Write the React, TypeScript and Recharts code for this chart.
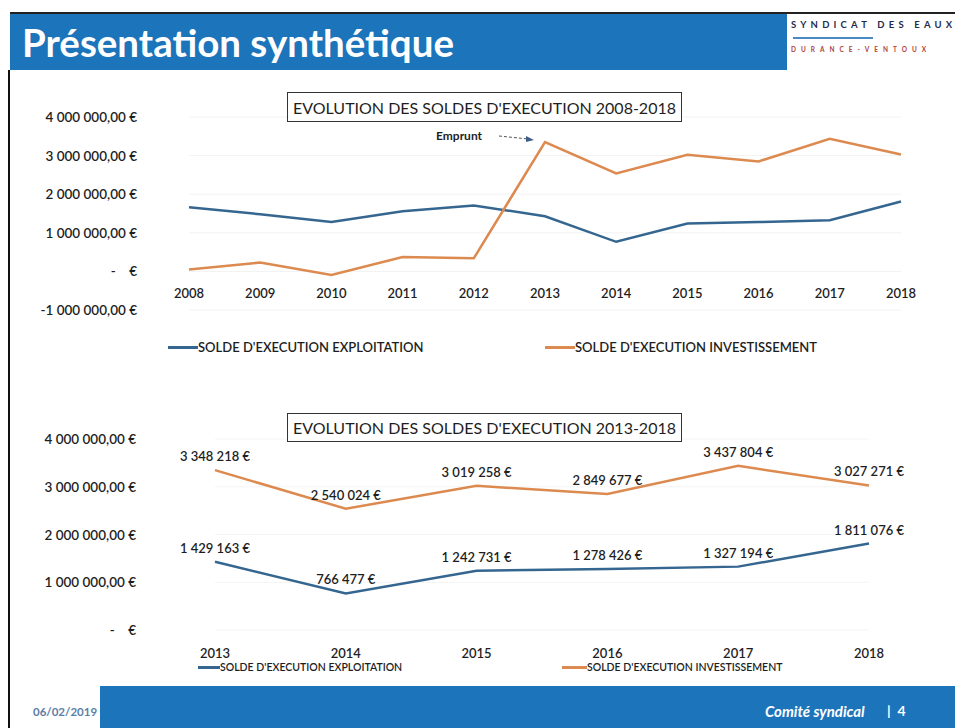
import React from 'react';
import { LineChart, Line, XAxis, YAxis, CartesianGrid, LabelList } from 'recharts';

// ---- Data ----
const yearsFull = ['2008', '2009', '2010', '2011', '2012', '2013', '2014', '2015', '2016', '2017', '2018'];
const exploitationFull = [1660000, 1480000, 1280000, 1560000, 1710000, 1429163, 766477, 1242731, 1278426, 1327194, 1811076];
const investissementFull = [50000, 230000, -90000, 370000, 340000, 3348218, 2540024, 3019258, 2849677, 3437804, 3027271];

const yearsRecent = ['2013', '2014', '2015', '2016', '2017', '2018'];
const exploitationRecent = [1429163, 766477, 1242731, 1278426, 1327194, 1811076];
const investissementRecent = [3348218, 2540024, 3019258, 2849677, 3437804, 3027271];

const yTicksTop = [-1000000, 0, 1000000, 2000000, 3000000, 4000000];
const yTicksBottom = [0, 1000000, 2000000, 3000000, 4000000];

const seriesNames = ["SOLDE D'EXECUTION EXPLOITATION", "SOLDE D'EXECUTION INVESTISSEMENT"];
const titleTop = "EVOLUTION DES SOLDES D'EXECUTION 2008-2018";
const titleBottom = "EVOLUTION DES SOLDES D'EXECUTION 2013-2018";
const annotationText = 'Emprunt';
const pageTitle = 'Présentation synthétique';
const footerDate = '06/02/2019';
const footerText = 'Comité syndical';
const pageNumber = '4';

const dataTop = yearsFull.map((y, i) => ({ year: y, exploitation: exploitationFull[i], investissement: investissementFull[i] }));
const dataBottom = yearsRecent.map((y, i) => ({ year: y, exploitation: exploitationRecent[i], investissement: investissementRecent[i] }));

// ---- Styles ----
const BLUE_LINE = '#35668f';
const ORANGE_LINE = '#dc8a4f';
const BAND = '#1c74bb';
const FONT = 'Lato, "Open Sans", sans-serif';
const TEXT = '#1e1e1e';

const groupThousands = (n: number) => String(Math.round(Math.abs(n))).replace(/\B(?=(\d{3})+(?!\d))/g, ' ');
const fmtAxis = (v: number) => {
  if (v === 0) return '-    €';
  return (v < 0 ? '-' : '') + groupThousands(v) + ',00 €';
};
const fmtLabel = (v: number) => groupThousands(v) + ' €';

const YTick = (props: any) => {
  const { x, y, payload } = props;
  return (
    <text x={x} y={y} textAnchor="end" dominantBaseline="central" fill={TEXT}
      style={{ fontFamily: FONT, fontSize: 13.5, fontWeight: 600, whiteSpace: 'pre' }}>
      {fmtAxis(payload.value)}
    </text>
  );
};

const makeXTick = (dy: number, size: number) => (props: any) => {
  const { x, y, payload } = props;
  return (
    <text x={x} y={y + dy} textAnchor="middle" dominantBaseline="central" fill={TEXT}
      style={{ fontFamily: FONT, fontSize: size, fontWeight: 600 }}>
      {payload.value}
    </text>
  );
};

const TitleBox = ({ left, top, width, height, text }: any) => (
  <div style={{
    position: 'absolute', left, top, width, height, boxSizing: 'border-box',
    border: '1.5px solid #333', background: '#fff', display: 'flex', alignItems: 'center', justifyContent: 'center',
    fontFamily: FONT, fontSize: 16, color: TEXT, whiteSpace: 'nowrap',
  }}>{text}</div>
);

const LegendItem = ({ left, top, color, text, lineW, size }: any) => (
  <div style={{ position: 'absolute', left, top, display: 'flex', alignItems: 'center', whiteSpace: 'nowrap' }}>
    <div style={{ width: lineW, height: 3, background: color }} />
    <span style={{ fontFamily: FONT, fontSize: size, fontWeight: 600, color: TEXT }}>{text}</span>
  </div>
);

export default function App() {
  return (
    <div style={{ position: 'absolute', left: 0, top: 0, width: 955, height: 728, background: '#fff', overflow: 'hidden', fontFamily: FONT }}>
      {/* header */}
      <div style={{ position: 'absolute', left: 10, top: 12, width: 945, height: 2, background: '#222' }} />
      <div style={{ position: 'absolute', left: 10, top: 14, width: 777, height: 56, background: BAND }} />
      <div style={{ position: 'absolute', left: 22, top: 14, height: 56, display: 'flex', alignItems: 'center',
        color: '#fff', fontFamily: FONT, fontWeight: 700, fontSize: 38.5 }}>{pageTitle}</div>
      <div style={{ position: 'absolute', left: 791, top: 19, fontFamily: FONT, fontSize: 9.5, fontWeight: 700, letterSpacing: 4.2, color: '#1f2d4d', whiteSpace: 'nowrap' }}>SYNDICAT DES EAUX</div>
      <div style={{ position: 'absolute', left: 793, top: 37, width: 80, height: 2, background: '#4a8ac4' }} />
      <div style={{ position: 'absolute', left: 791, top: 46, fontFamily: FONT, fontSize: 6.5, fontWeight: 700, letterSpacing: 5, color: '#b2413a', whiteSpace: 'nowrap' }}>DURANCE-VENTOUX</div>
      <div style={{ position: 'absolute', left: 8, top: 70, width: 2, height: 658, background: '#111' }} />

      {/* top chart */}
      <div style={{ position: 'absolute', left: 0, top: 0 }}>
        <LineChart width={955} height={400} data={dataTop} margin={{ top: 117, right: 54, bottom: 60, left: 89 }}>
          <CartesianGrid vertical={false} stroke="#f2f2f2" />
          <XAxis dataKey="year" height={30} axisLine={false} tickLine={false} tickSize={0} tickMargin={0}
            interval={0} tick={makeXTick(-17, 13)} />
          <YAxis width={100} domain={[-1000000, 4000000]} ticks={yTicksTop} axisLine={false} tickLine={false}
            tickSize={0} tickMargin={52} interval={0} tick={<YTick />} />
          <Line type="linear" dataKey="exploitation" name={seriesNames[0]} stroke={BLUE_LINE} strokeWidth={2.5} dot={false} isAnimationActive={false} />
          <Line type="linear" dataKey="investissement" name={seriesNames[1]} stroke={ORANGE_LINE} strokeWidth={2.5} dot={false} isAnimationActive={false} />
        </LineChart>
      </div>
      <TitleBox left={287} top={92} width={395} height={30} text={titleTop} />
      <div style={{ position: 'absolute', left: 436, top: 128, fontFamily: FONT, fontSize: 12, fontWeight: 700, color: TEXT }}>{annotationText}</div>
      <svg style={{ position: 'absolute', left: 0, top: 0 }} width={955} height={400}>
        <line x1={499} y1={136} x2={528} y2={139} stroke="#555" strokeWidth={1} strokeDasharray="3 2" />
        <polygon points="534,140 526,136 526,142" fill="#3d5f86" />
      </svg>
      <LegendItem left={168} top={339} color={BLUE_LINE} text={seriesNames[0]} lineW={30} size={13} />
      <LegendItem left={545} top={339} color={ORANGE_LINE} text={seriesNames[1]} lineW={30} size={13} />

      {/* bottom chart */}
      <div style={{ position: 'absolute', left: 0, top: 400 }}>
        <LineChart width={955} height={300} data={dataBottom} margin={{ top: 39, right: 86, bottom: 40, left: 115 }}>
          <CartesianGrid vertical={false} stroke="#f4f4f4" />
          <XAxis dataKey="year" height={30} axisLine={false} tickLine={false} tickSize={0} tickMargin={0}
            interval={0} tick={makeXTick(23, 13)} />
          <YAxis width={100} domain={[0, 4000000]} ticks={yTicksBottom} axisLine={false} tickLine={false}
            tickSize={0} tickMargin={79} interval={0} tick={<YTick />} />
          <Line type="linear" dataKey="exploitation" name={seriesNames[0]} stroke={BLUE_LINE} strokeWidth={2.5} dot={false} isAnimationActive={false}>
            <LabelList dataKey="exploitation" position="top" offset={9} formatter={(v: any) => fmtLabel(v)}
              style={{ fontFamily: FONT, fontSize: 13, fontWeight: 600, fill: TEXT }} />
          </Line>
          <Line type="linear" dataKey="investissement" name={seriesNames[1]} stroke={ORANGE_LINE} strokeWidth={2.5} dot={false} isAnimationActive={false}>
            <LabelList dataKey="investissement" position="top" offset={9} formatter={(v: any) => fmtLabel(v)}
              style={{ fontFamily: FONT, fontSize: 13, fontWeight: 600, fill: TEXT }} />
          </Line>
        </LineChart>
      </div>
      <TitleBox left={287} top={413} width={395} height={29} text={titleBottom} />
      <LegendItem left={198} top={661} color={BLUE_LINE} text={seriesNames[0]} lineW={22} size={10.5} />
      <LegendItem left={562} top={661} color={ORANGE_LINE} text={seriesNames[1]} lineW={25} size={10.5} />

      {/* footer */}
      <div style={{ position: 'absolute', left: 100, top: 686, width: 855, height: 42, background: BAND }} />
      <div style={{ position: 'absolute', left: 33, top: 705, fontFamily: FONT, fontSize: 11.5, fontWeight: 700, color: '#5b7ea6' }}>{footerDate}</div>
      <div style={{ position: 'absolute', left: 765, top: 702, fontFamily: FONT, fontSize: 15, fontWeight: 700, fontStyle: 'italic', color: '#fff', whiteSpace: 'pre' }}>{footerText}</div>
      <div style={{ position: 'absolute', left: 887, top: 702, fontFamily: FONT, fontSize: 14, fontWeight: 700, color: '#fff', whiteSpace: 'pre' }}>{'|  ' + pageNumber}</div>
    </div>
  );
}
